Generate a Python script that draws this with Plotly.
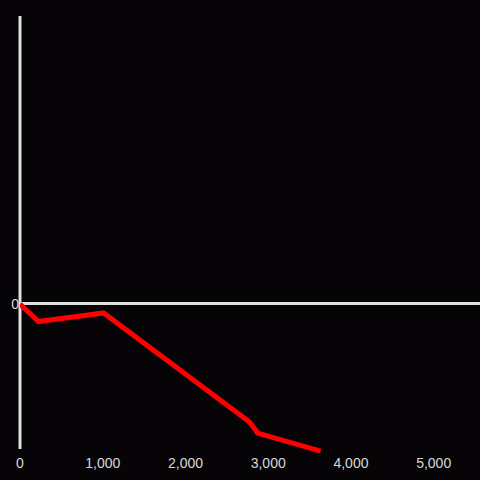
import plotly.graph_objects as go

x_vals = [0, 224, 1010, 2775, 2872, 3634]
y_vals = [0, -12.1, -6.2, -81.4, -89.0, -101.4]
x_ticks = [0, 1000, 2000, 3000, 4000, 5000]
y_ticks = [0]

fig = go.Figure()
fig.add_trace(go.Scatter(x=x_vals, y=y_vals, mode="lines",
                         line=dict(color="#ff0000", width=5),
                         hoverinfo="skip", showlegend=False))

fig.add_shape(type="line", xref="paper", yref="paper", x0=0, x1=0,
              y0=(453 - 449) / 437, y1=1, layer="below",
              line=dict(color="#e0e0e0", width=3))

fig.update_layout(
    width=480, height=480,
    margin=dict(l=20, r=0, t=16, b=27),
    paper_bgcolor="#060407", plot_bgcolor="#060407",
    font=dict(family="Liberation Sans, Arial, sans-serif", size=14, color="#d8d8d8"),
    xaxis=dict(range=[0, 5560], tickvals=x_ticks, tickformat=",", showgrid=False,
               zeroline=False, showline=False, ticks=""),
    yaxis=dict(range=[-102.76, 198.6], tickvals=y_ticks, showgrid=False,
               zeroline=True, zerolinecolor="#e0e0e0", zerolinewidth=3,
               showline=False, ticks=""),
)
fig.write_html("out.html", config={"displayModeBar": False},
               post_script="document.body.style.margin='0';document.body.style.background='#060407';")
